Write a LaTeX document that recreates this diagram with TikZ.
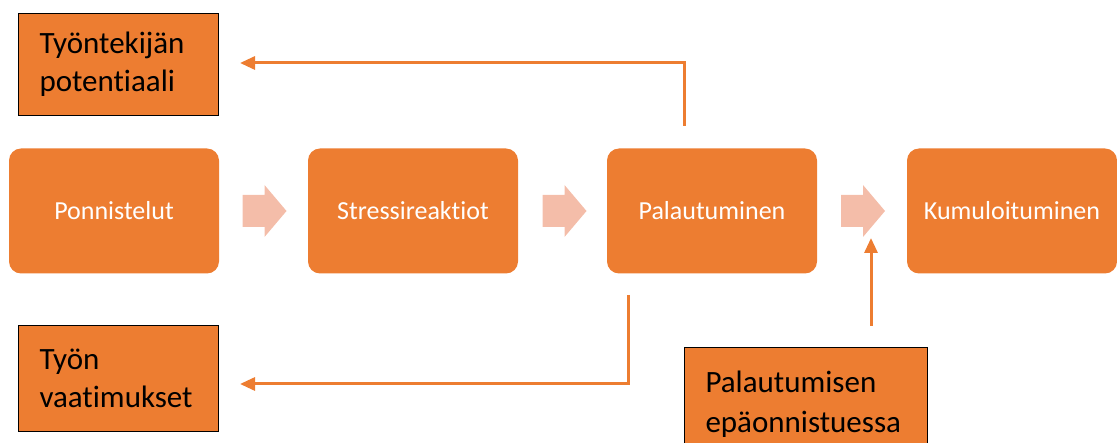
\documentclass[tikz,border=0pt]{standalone}
\usepackage{fontspec}
\setmainfont{Carlito}[RawFeature={-liga;-clig;-calt;-dlig}]
\usetikzlibrary{arrows.meta,calc}
\definecolor{orng}{HTML}{ED7D31}
\definecolor{peach}{HTML}{F4BDA9}
\tikzset{
  flowbox/.style={fill=orng, rounded corners=12pt, minimum width=210pt, minimum height=125pt, inner sep=0pt, text=white, font=\fontsize{26}{31}\selectfont},
  notebox/.style={fill=orng, draw=black, line width=1pt, align=left, inner xsep=21pt, inner ysep=0pt, anchor=north west, font=\fontsize{31}{38}\selectfont, text=black},
  conn/.style={draw=orng, line width=3pt, -{Triangle[length=15pt,width=13pt]}},
  barrow/.pic={\fill[peach] (-22,-16)--(0,-16)--(0,-26)--(22,0)--(0,26)--(0,16)--(-22,16)--cycle;}
}
\begin{document}
\begin{tikzpicture}[x=1pt,y=-1pt]
\useasboundingbox (0,0) rectangle (1117,443);
\node[flowbox] (p) at (114,211) {Ponnistelut};
\node[flowbox] (s) at (413,211) {Stressireaktiot};
\node[flowbox] (r) at (712,211) {Palautuminen};
\node[flowbox] (k) at (1012,211) {Kumuloituminen};
\pic at ($(p.east)!0.5!(s.west)+(1,0)$) {barrow};
\pic at ($(s.east)!0.5!(r.west)+(2,0)$) {barrow};
\pic at ($(r.east)!0.5!(k.west)+(1,0)$) {barrow};
\node[notebox, text width=158pt, minimum height=102pt] (tp) at (18,13) {Työntekijän\\potentiaali};
\node[notebox, text width=158pt, minimum height=106pt] (tv) at (18,325) {Työn\\vaatimukset};
\node[notebox, text width=201pt, minimum height=114pt, font=\fontsize{31}{40}\selectfont] (pe) at (684,347) {Palautumisen\\epäonnistuessa};
\coordinate (a1) at (684,126);
\coordinate (a1t) at (240,63);
\draw[conn] (a1) |- (a1t);
\coordinate (a2) at (628,295);
\coordinate (a2t) at (240,384);
\draw[conn] (a2) |- (a2t);
\coordinate (a3) at (871,326);
\coordinate (a3t) at (871,238);
\draw[conn] (a3) -- (a3t);
\end{tikzpicture}
\end{document}
